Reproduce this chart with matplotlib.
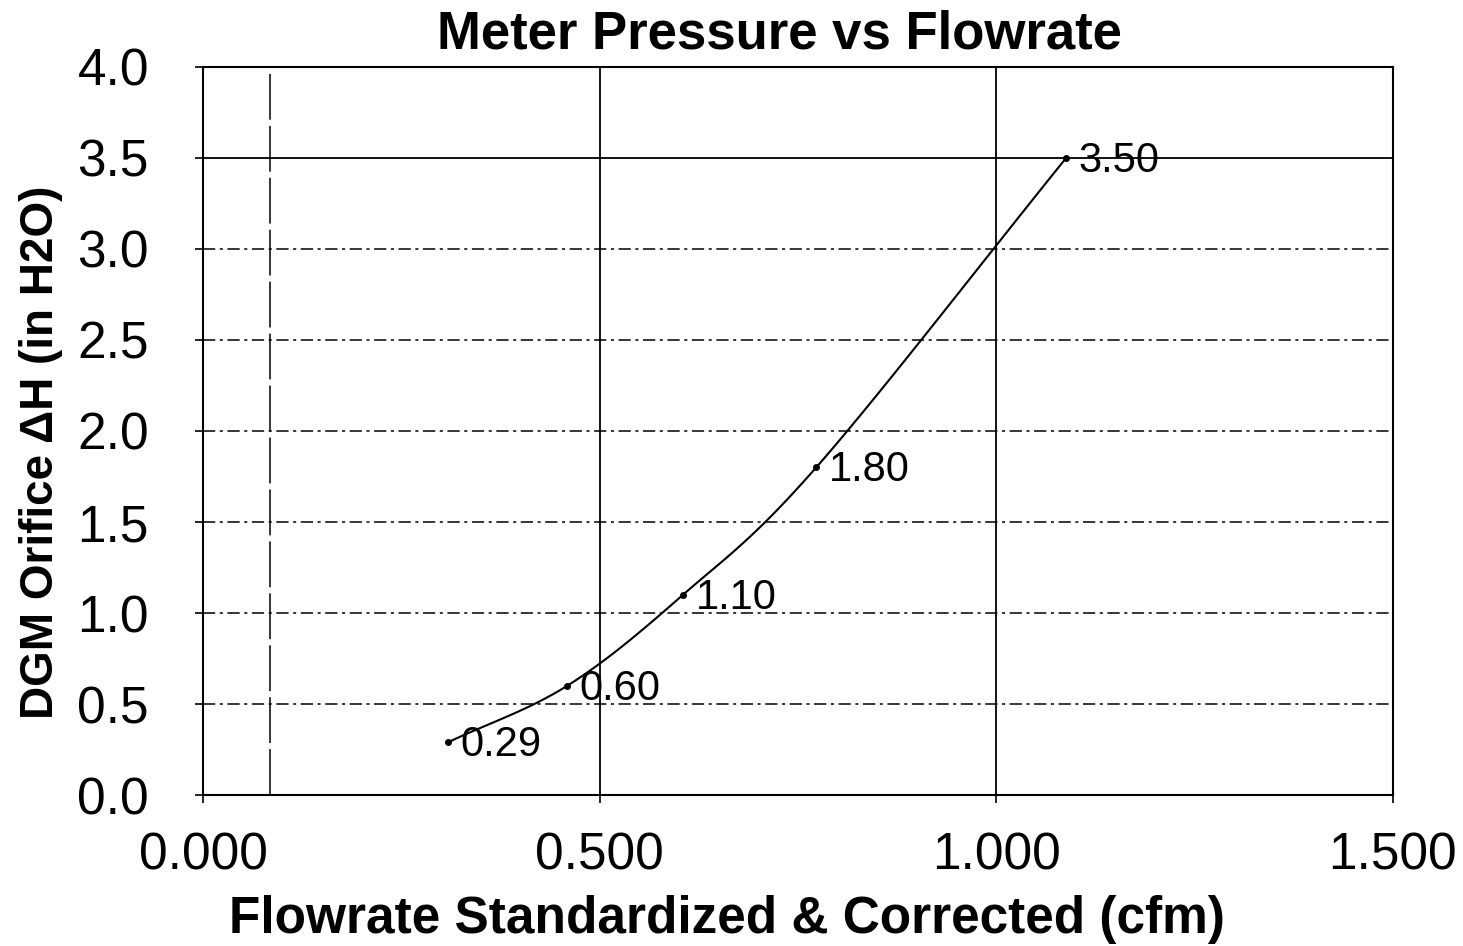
import numpy as np
import matplotlib.pyplot as plt

# data
flow = [0.309, 0.459, 0.605, 0.773, 1.088]
dh = [0.29, 0.60, 1.10, 1.80, 3.50]
labels = ['0.29', '0.60', '1.10', '1.80', '3.50']

x_ticks = [0.0, 0.5, 1.0, 1.5]
x_ticklabels = ['0.000', '0.500', '1.000', '1.500']
y_ticks = [0.0, 0.5, 1.0, 1.5, 2.0, 2.5, 3.0, 3.5, 4.0]


def smooth(x, y, n=30):
    # catmull-rom style smoothing like the spreadsheet "smoothed line"
    x = np.asarray(x, float)
    y = np.asarray(y, float)
    px = np.concatenate([[2 * x[0] - x[1]], x, [2 * x[-1] - x[-2]]])
    py = np.concatenate([[2 * y[0] - y[1]], y, [2 * y[-1] - y[-2]]])
    xs, ys = [], []
    t = np.linspace(0, 1, n)
    for i in range(1, len(px) - 2):
        for p, out in ((px, xs), (py, ys)):
            p0, p1, p2, p3 = p[i - 1], p[i], p[i + 1], p[i + 2]
            out.extend(0.5 * (2 * p1 + (-p0 + p2) * t
                              + (2 * p0 - 5 * p1 + 4 * p2 - p3) * t ** 2
                              + (-p0 + 3 * p1 - 3 * p2 + p3) * t ** 3))
    return xs, ys


plt.rcParams['font.family'] = ['Liberation Sans', 'DejaVu Sans']

fig = plt.figure(figsize=(14.63, 9.46), dpi=100)
ax = fig.add_axes([0.1388, 0.1596, 0.8133, 0.7696])

# grid
for yv in y_ticks[1:-1]:
    if yv == 3.5:
        ax.axhline(yv, color='black', lw=1.3, zorder=1)
    else:
        ax.axhline(yv, color='black', lw=1.1, ls=(0, (8, 3, 2, 3)), zorder=1)
for xv in x_ticks[1:-1]:
    ax.axvline(xv, color='black', lw=1.3, zorder=1)
ax.axvline(0.085, color='black', lw=1.1, ls=(0, (30, 4)), zorder=1)

sx, sy = smooth(flow, dh)
ax.plot(sx, sy, color='black', lw=1.5, zorder=3)
ax.plot(flow, dh, 'o', color='black', ms=4, zorder=4)

for xv, yv, lab in zip(flow, dh, labels):
    ax.annotate(lab, (xv, yv), xytext=(9, -2), textcoords='offset points',
                fontsize=30, va='center', ha='left', zorder=5)

ax.set_xlim(0, 1.5)
ax.set_ylim(0, 4.0)
ax.set_xticks(x_ticks)
ax.set_xticklabels(x_ticklabels)
ax.set_yticks(y_ticks)
ax.set_yticklabels([f'{v:.1f}' for v in y_ticks])
ax.tick_params(axis='both', labelsize=37, length=6, width=1.2, direction='out')
ax.tick_params(axis='x', pad=20)
ax.tick_params(axis='y', pad=33)

for s in ax.spines.values():
    s.set_color('black')
    s.set_linewidth(1.5)

ax.set_title('Meter Pressure vs Flowrate', fontsize=38, fontweight='bold',
             x=0.484, y=1.0, pad=13)
ax.set_xlabel('Flowrate Standardized & Corrected (cfm)', fontsize=37,
              fontweight='bold')
ax.set_ylabel('DGM Orifice \u0394H (in H2O)', fontsize=33, fontweight='bold')
ax.xaxis.set_label_coords(0.44, -0.137)
ax.yaxis.set_label_coords(-0.118, 0.471)

fig.savefig('out.png', dpi=100)
